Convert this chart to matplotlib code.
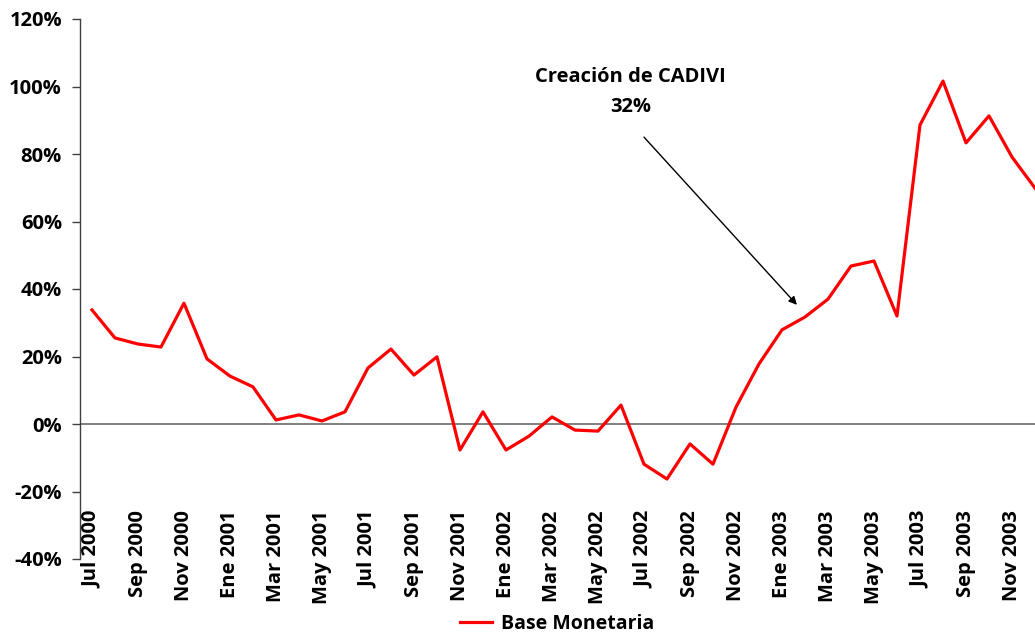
import numpy as np
import matplotlib.pyplot as plt

plt.rcParams['font.family'] = ['Open Sans', 'DejaVu Sans']
plt.rcParams['font.weight'] = 'bold'

# Meses (Jul 2000 - Dic 2003)
meses = ['Ene', 'Feb', 'Mar', 'Abr', 'May', 'Jun',
         'Jul', 'Ago', 'Sep', 'Oct', 'Nov', 'Dic']
fechas = []
for anio in range(2000, 2004):
    for m in meses:
        fechas.append(f'{m} {anio}')
fechas = fechas[6:]

# Base Monetaria, variacion anual (%)
base_monetaria = [33.8, 25.5, 23.7, 22.8, 35.8, 19.3,
                  14.2, 11.0, 1.2, 2.7, 0.9, 3.6,
                  16.6, 22.2, 14.5, 19.9, -7.7, 3.6,
                  -7.7, -3.6, 2.1, -1.8, -2.1, 5.6,
                  -11.9, -16.3, -5.9, -11.9, 5.0, 17.8,
                  27.9, 31.7, 37.0, 46.8, 48.3, 32.0,
                  88.6, 101.6, 83.3, 91.3, 79.1, 69.9]

x = np.arange(len(base_monetaria))

fig = plt.figure(figsize=(10.35, 6.37), dpi=100)
ax = fig.add_axes([80 / 1035, (637 - 559) / 637, 955 / 1035, 540 / 637])

ax.plot(x, base_monetaria, color='#ff0000', linewidth=2.3, label='Base Monetaria')
ax.axhline(0, color='#808080', linewidth=1.4, zorder=1)

ax.set_xlim(-0.52, 41.0)
ax.set_ylim(-40, 120)
ax.set_yticks(np.arange(-40, 121, 20))
ax.set_yticklabels([f'{v}%' for v in range(-40, 121, 20)], fontweight='bold')

ax.set_xticks(x[::2])
ax.set_xticklabels(fechas[::2], rotation=90, va='top', ha='center', fontweight='bold')

for s in ['top', 'right', 'bottom']:
    ax.spines[s].set_visible(False)
ax.spines['left'].set_color('#404040')
ax.spines['left'].set_linewidth(1.0)

ax.tick_params(axis='y', direction='out', length=6, width=1.0, color='#404040',
               pad=7, labelsize=14.5)
ax.tick_params(axis='x', length=0, pad=-35, labelsize=14.5)

ax.text(23.43, 98.3, 'Creación de CADIVI\n32%', ha='center', va='center',
        fontsize=14.5, fontweight='bold', linespacing=1.7)
ax.annotate('', xy=(30.65, 35.3), xytext=(24.0, 85.0),
            arrowprops=dict(arrowstyle='-|>', color='black', lw=1.0,
                            shrinkA=0, shrinkB=0, mutation_scale=12))

leg = ax.legend(loc='center', bbox_to_anchor=(0.5, -0.12), frameon=False,
                prop={'size': 14, 'weight': 'bold'}, handlelength=1.6,
                handletextpad=0.5)

fig.savefig('out.png', dpi=100)
